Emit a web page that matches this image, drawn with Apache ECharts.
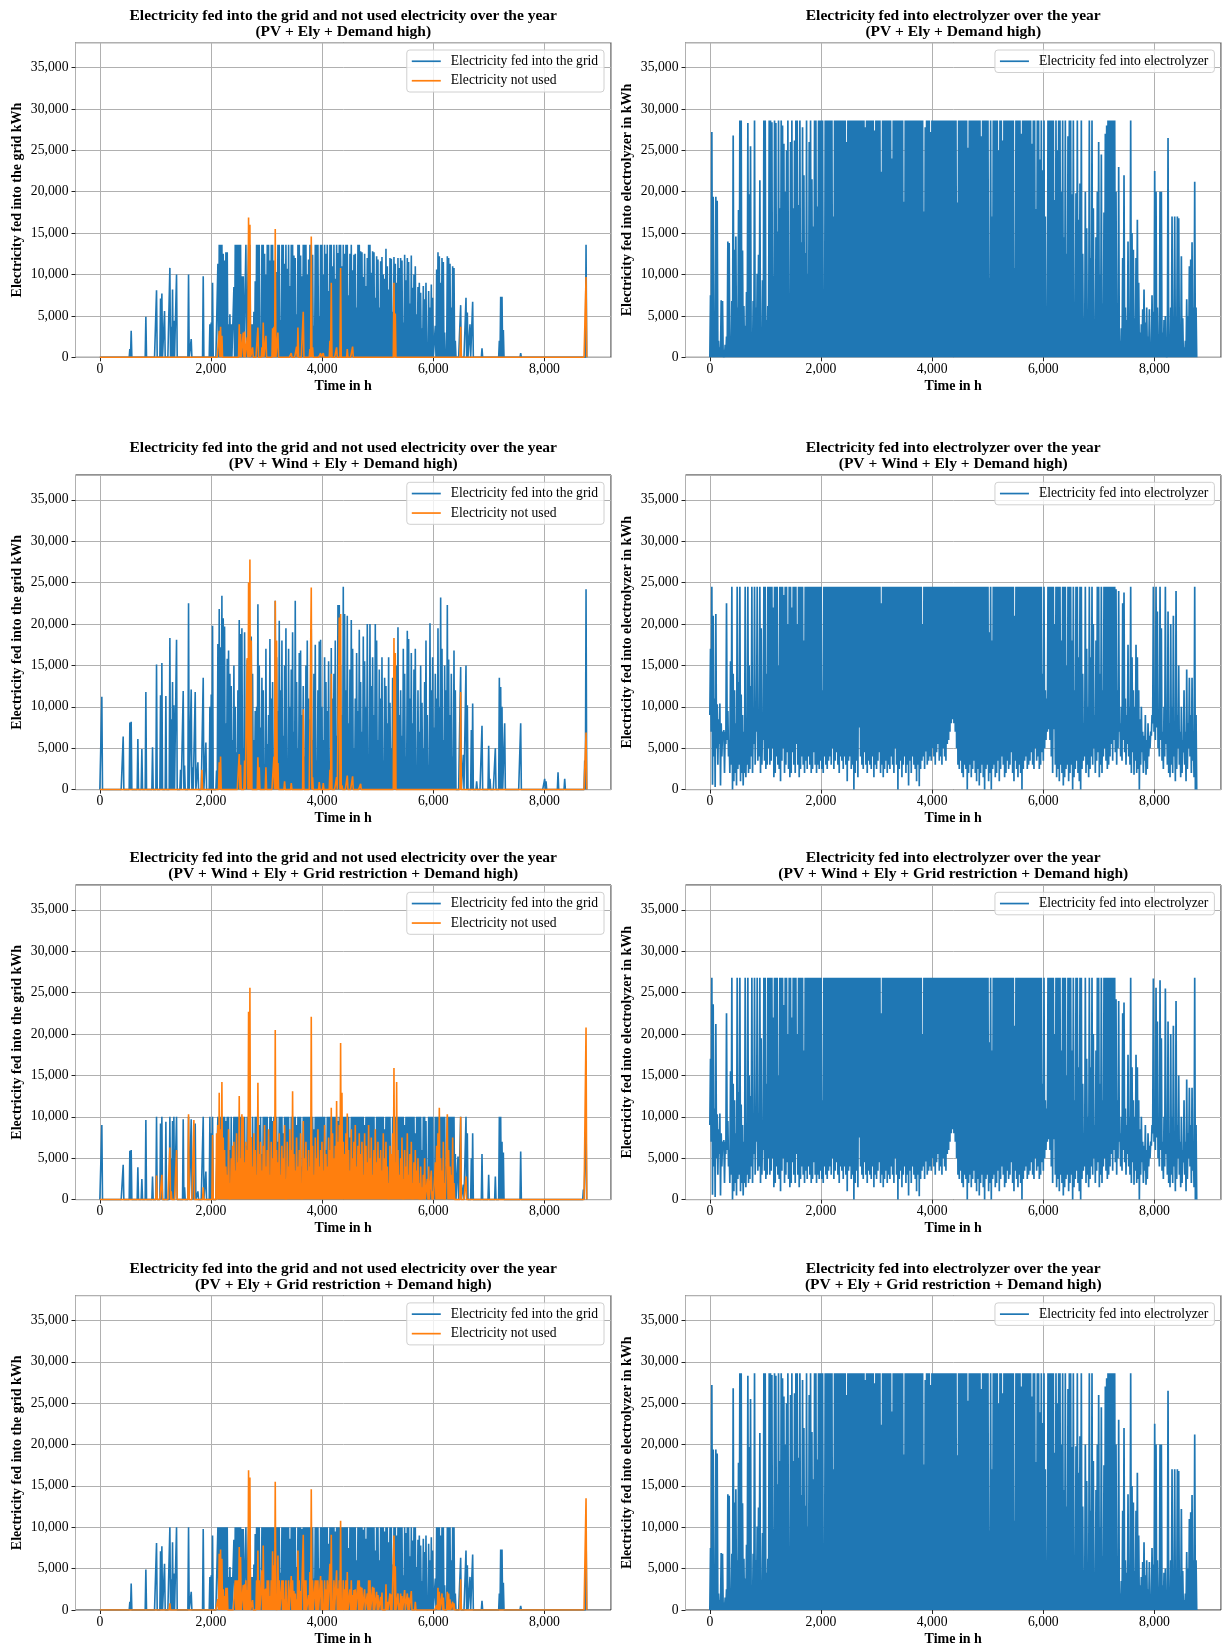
<!DOCTYPE html>
<html>
<head>
<meta charset="utf-8" />
<title>Electricity over the year</title>
<style>
  html, body { margin: 0; padding: 0; background: #fff; }
  #chart { width: 1223px; height: 1647px; }
</style>
</head>
<body>
<div id="chart"></div>
<script src="https://cdn.jsdelivr.net/npm/echarts@6/dist/echarts.min.js"></script>
<script>
// one value per day in 1000 kWh (spike drawn at hour day*24+12)

// PV + Ely + Demand high
var gridA = [
  0,0,0,0,0,0,0,0,0,0,0,0,0,0,0,
  0,0,0,0,0,0,0,1.0,3.2,0,0,0,0,0,0,
  0,0,0,0,4.9,0,0,0,0,0,0,0,8.1,0,0,
  7.1,7.7,0,5.6,0,0,0,10.8,3.7,8.2,4.4,0,10.0,0,0,
  0,0,0,0,0,0,10.0,0,2.2,0,0,0,0,0,0,
  0,0,9.8,0,0,0,0,4.0,4.2,9.0,0,0,0,11.3,13.6,
  13.6,13.6,12.5,11.7,12.7,12.7,4.0,5.2,4.0,0,8.5,13.6,13.6,13.6,13.6,
  13.6,9.8,9.8,0,13.6,0,13.6,13.6,4.0,4.0,5.5,9.2,13.6,13.6,13.6,
  1.7,13.6,13.6,12.5,10.0,13.6,13.6,11.7,13.6,13.6,11.7,8.2,10.3,13.6,13.6,
  4.5,13.6,13.6,11.3,13.6,10.7,13.6,8.6,13.6,13.6,12.3,12.0,5.2,13.6,13.6,
  12.3,9.8,13.6,13.6,13.6,10.0,11.8,13.6,13.6,12.4,3.8,13.6,13.6,13.6,5.0,
  13.6,13.6,10.0,13.6,12.5,13.6,8.0,13.6,13.6,11.0,13.6,9.5,13.6,12.6,13.6,
  13.6,11.0,13.6,12.5,13.6,13.6,7.5,12.5,13.6,10.5,12.4,12.5,6.0,13.6,13.6,
  12.8,12.7,9.7,12.5,8.6,12.0,13.6,13.6,10.2,12.8,12.7,7.2,12.2,11.8,6.0,
  11.6,12.1,10.0,9.5,13.1,11.0,8.2,12.0,11.9,5.5,12.1,11.3,9.0,12.0,10.8,
  12.0,11.7,4.2,12.4,9.3,12.0,11.5,6.5,12.3,8.4,10.0,11.0,5.2,8.5,9.0,
  7.8,3.5,8.6,7.0,9.0,0.4,8.0,6.0,8.8,7.2,0,3.8,10.6,12.7,12.2,
  9.0,12.0,11.5,3.0,0.4,12.2,12.0,11.3,6.0,11.0,10.8,2.0,0,0,0,
  6.3,0,0,0,7.2,5.4,0,4.0,0,6.7,0,0,0,0,0,
  0,1.1,0,0,0,0,0,0,0,0,0,0,0,0,2.0,
  7.3,7.3,3.3,0,0,0,0,0,0,0,0,0,0,0,0,
  0.5,0,0,0,0,0,0,0,0,0,0,0,0,0,0,
  0,0,0,0,0,0,0,0,0,0,0,0,0,0,0,
  0,0,0,0,0,0,0,0,0,0,0,0,0,0,0,
  0,0,0,0,13.6
];
var unusedA = [
  [89,3.2],[90,3.7],[91,2.6],[104,4.0],[105,2.8],[107,3.0],[108,3.1],[110,2.4],[111,16.9],[112,16.0],
  [114,1.2],[118,3.6],[121,1.2],[122,4.2],[124,2.6],[129,3.5],[130,3.7],[131,15.5],[133,3.0],[143,0.5],
  [147,1.3],[148,3.6],[152,5.5],[157,1.0],[158,14.6],[159,1.2],[165,0.5],[167,0.5],[172,2.0],[173,9.0],
  [177,1.2],[180,10.8],[185,1.0],[189,1.3],[220,9.0],[221,5.3],[270,3.7],[364,9.7]
];

// PV + Wind + Ely + Demand high
var gridB = [
  0,11.2,0,0,0,0,0,0,0,0,0,0,0,0,0,
  0,0,6.4,0,0,0,0,8.1,8.2,0,0,0,0,6.1,0,
  0,4.9,0,0,11.8,0,0,0,0,5.1,0,0,15.1,0,0,
  11.4,15.3,0,0,11.3,0,0,18.3,8.5,13.0,10.2,0,18.1,0,0,
  2.4,0,11.9,2.9,0,0,22.5,0,12.1,2.7,0,11.8,0,3.3,0,
  0,0,13.5,0,5.7,0,0,10.0,11.5,19.8,0,0,2.3,17.6,21.8,
  17.2,23.4,20.7,19.7,8.0,15.8,16.8,14.0,12.5,6.0,15.0,10.0,4.5,12.0,20.5,
  18.8,19.5,5.0,19.0,3.0,15.7,12.0,17.0,18.5,14.0,6.0,9.5,10.0,22.4,15.0,
  7.5,13.5,12.0,3.0,17.0,5.5,9.0,18.2,11.0,13.0,4.0,22.8,16.0,9.5,20.4,
  12.0,18.0,6.5,15.0,19.5,3.0,17.0,10.0,14.5,19.0,7.0,22.8,13.0,5.0,16.5,
  16.8,9.0,12.5,4.0,15.0,18.0,11.0,8.5,19.4,6.0,14.0,17.5,3.5,12.0,17.9,
  18.1,10.0,6.0,16.0,13.0,9.5,15.5,2.0,17.1,11.0,14.0,18.0,6.5,22.3,22.3,
  15.0,9.0,24.5,21.2,12.0,21.0,8.0,14.5,20.5,17.0,5.0,11.0,16.5,9.5,19.3,
  13.0,7.0,18.5,15.5,10.0,20.0,4.0,20.0,12.5,16.0,9.0,20.0,18.0,6.0,14.5,
  11.0,16.0,3.5,13.5,12.5,8.0,16.0,10.5,5.0,13.5,12.5,7.0,15.0,19.6,9.0,
  12.0,6.5,17.0,14.0,4.0,19.2,18.2,11.0,16.5,8.0,14.5,17.0,2.5,12.0,7.0,
  15.0,10.5,5.0,13.0,18.0,9.0,3.0,20.1,12.0,16.0,7.5,14.0,11.0,19.5,10.0,
  23.2,17.0,6.0,15.0,12.0,22.3,15.7,9.0,14.0,4.0,16.8,12.0,0,0,0,
  14.8,0,4.2,0,15.0,10.2,0,0,7.2,10.4,0,0,1.0,0,0,
  0,7.7,0,0,0,0,5.3,1.3,0,0,0,5.0,0,0,13.5,
  12.4,10.0,0,8.0,0,0,0,0,0,0,0,0,0,0,0,
  8.0,0,0,0,0,0,0,0,0,0,0,0,0,0,0,
  0,0,0,1.3,1.0,0,0,0,0,0,0,0,0,2.1,0,
  0,0,0,1.3,0,0,0,0,0,0,0,0,0,0,0,
  0,0,0,3.5,24.2
];
var unusedB = [
  [76,2.4],[89,3.3],[90,4.0],[104,4.3],[105,3.0],[108,3.5],[110,15.9],[111,25.0],[112,27.8],[113,18.0],
  [118,3.9],[119,2.7],[124,2.7],[130,4.0],[131,22.8],[132,18.0],[133,3.2],[138,1.0],[143,0.8],[152,9.7],
  [158,24.4],[159,1.5],[164,0.9],[167,0.8],[172,2.4],[173,14.0],[177,1.5],[179,20.8],[180,21.2],[181,0.5],
  [185,1.7],[189,1.6],[195,0.7],[220,18.3],[221,16.5],[270,11.8],[364,6.9]
];

// PV + Wind + Ely + Grid restriction + Demand high
var gridC = [
  0,9.0,0,0,0,0,0,0,0,0,0,0,0,0,0,
  0,0,4.2,0,0,0,0,5.9,6.0,0,0,0,0,3.9,0,
  0,2.5,0,0,9.6,0,0,0,0,2.8,0,0,10,0,0,
  9.2,10,0,0,9.4,0,0,10,5.0,9.5,10,0,10,0,0,
  0.1,0,9.7,1.5,0,0,10,0,9.7,1.0,0,9.2,0,1.0,0,
  0,0,10,0,3.4,0,0,10,8.0,10,0,0,0,10,10,
  10,10,10,10,9.5,10,10,6.0,10,4.0,10,10,10,10,10,
  10,10,9.0,10,6.5,10,10,10,7.5,10,3.5,10,10,10,9.0,
  10,5.5,10,10,10,10,4.0,10,10,9.5,10,10,10,7.0,10,
  10,10,8.0,10,10,10,10,5.0,10,10,10,10,9.0,10,10,
  10,4.0,10,10,10,10,10,10,10,10,8.5,10,10,10,10,
  10,10,10,10,6.0,10,10,10,10,10,10,10,10,9.5,10,
  10,10,10,10,10,10,10,7.5,10,10,10,10,10,10,10,
  10,10,10,9.0,10,10,10,10,10,10,10,5.0,10,10,10,
  10,10,10,8.5,10,10,10,10,4.5,10,10,10,10,10,10,
  10,10,10,9.0,10,10,10,10,10,10,10,8.0,10,10,10,
  10,6.0,10,10,9.5,0.5,10,10,10,10,3.0,10,10,10,10,
  10,10,10,10,4.0,10,10,10,10,10,10,5.5,0,5.2,0,
  10,0,1.8,0,10,8.0,0,0,5.0,8.0,0,0,0,0,0,
  0,5.5,0,0,0,0,3.0,0,0,0,0,2.8,0,0,10,
  10,7.0,5.7,0,0,0,0,0,0,0,0,0,0,0,0,
  5.8,0,0,0,0,0,0,0,0,0,0,0,0,0,0,
  0,0,0,0,0,0,0,0,0,0,0,0,0,0,0,
  0,0,0,0,0,0,0,0,0,0,0,0,0,0,0,
  0,0,1.2,0,9.4
];
var unusedC = [
  0,0,0,0,0,0,0,0,0,0,0,0,0,0,0,
  0,0,0,0,0,0,0,0,0,0,0,0,0,0,0,
  0,0,0,0,0,0,0,0,0,0,0,0,2.9,0,0,
  0,3.0,0,0,0,0,0,6.3,1.0,0,0,0,6.0,0,0,
  0,0,0,0,0,0,10.3,0,0,0,9.6,0,0,0,0,
  0,0,1.5,0,0,0,0,0,0,7.8,0,0,8.0,9.0,12.9,
  8.5,14.2,7.5,6.0,4.0,3.0,8.5,2.0,5.0,6.5,7.0,3.5,8.0,4.5,12.5,
  5.0,10.3,10.0,4.5,7.0,6.0,22.7,25.6,7.5,4.0,8.0,6.0,3.0,14.1,5.5,
  7.0,3.5,6.5,9.0,4.0,6.0,8.5,3.0,7.0,5.0,9.5,20.5,6.0,4.5,8.0,
  3.0,6.5,5.0,9.0,2.5,7.0,4.0,8.5,6.0,13.1,5.5,3.5,7.5,4.0,6.0,
  8.0,2.0,9.5,5.0,7.0,3.5,6.0,4.0,22.1,6.5,3.0,7.5,5.0,8.5,4.0,
  6.0,7.0,3.5,9.0,5.5,4.0,7.5,6.0,11.1,8.0,5.0,6.5,11.9,7.0,9.0,
  18.9,12.9,7.0,5.5,8.0,10.4,6.0,3.5,8.5,5.0,7.0,9.0,4.0,6.5,8.0,
  5.5,7.0,3.0,8.0,6.5,4.5,9.0,5.0,7.5,3.0,6.0,8.5,4.5,7.0,5.0,
  6.0,3.5,8.0,5.0,7.0,4.0,2.0,6.5,5.5,8.0,15.9,4.5,14.2,6.0,3.0,
  5.0,7.5,2.5,6.0,4.0,8.0,3.0,5.5,7.0,2.0,4.5,6.0,3.5,5.0,2.0,
  4.0,1.5,3.0,5.0,0,2.5,4.0,0,3.5,1.0,0,4.5,6.5,8.0,11.1,
  5.0,3.5,7.0,2.0,0,10.3,6.0,4.0,3.0,7.5,2.0,0,0,0,0,
  10.0,0,0,0,2.8,0,0,0,0,0,0,0,0,0,0,
  0,0,0,0,0,0,0,0,0,0,0,0,0,0,0,
  0,0,0,0,0,0,0,0,0,0,0,0,0,0,0,
  0,0,0,0,0,0,0,0,0,0,0,0,0,0,0,
  0,0,0,0,0,0,0,0,0,0,0,0,0,0,0,
  0,0,0,0,0,0,0,0,0,0,0,0,0,0,0,
  0,0,0,0,20.8
];

// PV + Ely + Grid restriction + Demand high
var gridD = [
  0,0,0,0,0,0,0,0,0,0,0,0,0,0,0,
  0,0,0,0,0,0,0,1.0,3.2,0,0,0,0,0,0,
  0,0,0,0,4.9,0,0,0,0,0,0,0,8.1,0,0,
  7.1,7.7,0,5.6,0,0,0,10,3.7,8.2,4.4,0,10,0,0,
  0,0,0,0,0,0,10,0,2.2,0,0,0,0,0,0,
  0,0,9.8,0,0,0,0,4.0,4.2,9.0,0,0,0,10,10,
  10,10,10,10,10,10,4.0,5.2,4.0,0,8.5,10,10,10,10,
  10,9.8,9.8,0,10,0,10,10,4.0,4.0,5.5,9.2,10,10,10,
  1.7,10,10,10,10,10,10,10,10,10,10,8.2,10,10,10,
  4.5,10,10,10,10,10,10,8.6,10,10,10,10,5.2,10,10,
  10,9.8,10,10,10,10,10,10,10,10,3.8,10,10,10,5.0,
  10,10,10,10,10,10,8.0,10,10,10,10,9.5,10,10,10,
  10,10,10,10,10,10,7.5,10,10,10,10,10,6.0,10,10,
  10,10,9.7,10,8.6,10,10,10,10,10,10,7.2,10,10,6.0,
  10,10,10,9.5,10,10,8.2,10,10,5.5,10,10,9.0,10,10,
  10,10,4.2,10,9.3,10,10,6.5,10,8.4,10,10,5.2,8.5,9.0,
  7.8,3.5,8.6,7.0,9.0,0.4,8.0,6.0,8.8,7.2,0,3.8,10,10,10,
  9.0,10,10,3.0,0.4,10,10,10,6.0,10,10,2.0,0,0,0,
  6.3,0,0,0,7.2,5.4,0,4.0,0,6.7,0,0,0,0,0,
  0,1.1,0,0,0,0,0,0,0,0,0,0,0,0,2.0,
  7.3,7.3,3.3,0,0,0,0,0,0,0,0,0,0,0,0,
  0.5,0,0,0,0,0,0,0,0,0,0,0,0,0,0,
  0,0,0,0,0,0,0,0,0,0,0,0,0,0,0,
  0,0,0,0,0,0,0,0,0,0,0,0,0,0,0,
  0,0,0,0,10
];
var unusedD = [
  0,0,0,0,0,0,0,0,0,0,0,0,0,0,0,
  0,0,0,0,0,0,0,0,0,0,0,0,0,0,0,
  0,0,0,0,0,0,0,0,0,0,0,0,0,0,0,
  0,0,0,0,0,0,0,0.8,0,0,0,0,0,0,0,
  0,0,0,0,0,0,0,0,0,0,0,0,0,0,0,
  0,0,0,0,0,0,0,0,0,0,0,0,0,1.3,6.8,
  7.3,6.2,2.5,1.7,2.7,2.7,0,0,0,0,0,3.6,3.6,3.6,7.6,
  6.4,0,3.0,3.1,3.6,2.4,16.9,16.0,0,1.2,0,0,3.6,7.2,3.6,
  0,4.8,7.8,2.5,2.6,3.6,3.6,1.7,3.6,7.1,5.4,15.5,0.3,6.6,3.6,
  0,3.6,3.6,1.3,3.6,0.7,3.6,0,4.1,3.6,2.3,2.0,1.3,7.2,3.6,
  2.3,0,9.1,3.6,3.6,0,1.8,4.6,14.6,3.6,0,3.6,3.6,3.6,0,
  4.1,3.6,0.5,3.6,2.5,3.6,0,5.6,9.1,1.0,3.6,0,4.8,2.6,3.6,
  10.8,1.0,3.6,2.5,3.6,4.6,0,2.5,3.6,1.8,2.4,2.5,0,3.6,3.6,
  2.8,2.7,0,2.5,0,2.0,3.6,3.6,0.2,2.8,2.7,0,2.2,1.8,0,
  1.6,2.1,0,0,3.1,1.0,0,2.0,1.9,0,9.0,5.3,0,2.0,0.8,
  2.0,1.7,0,2.4,0,2.0,1.5,0,2.3,0,0,1.0,0,0,0,
  0,0,0,0,0,0,0,0,0,0,0,0,0.6,2.7,2.2,
  0,2.0,1.5,0,0,2.2,2.0,1.3,0,1.0,0.8,0,0,0,0,
  3.7,0,0,0,0,0,0,0,0,0,0,0,0,0,0,
  0,0,0,0,0,0,0,0,0,0,0,0,0,0,0,
  0,0,0,0,0,0,0,0,0,0,0,0,0,0,0,
  0,0,0,0,0,0,0,0,0,0,0,0,0,0,0,
  0,0,0,0,0,0,0,0,0,0,0,0,0,0,0,
  0,0,0,0,0,0,0,0,0,0,0,0,0,0,0,
  0,0,0,0,13.5
];

// electrolyzer, PV only (night = 0)
var elyA = [
  7.5,27.2,19.4,5.5,19.4,18.9,2.0,1.2,6.9,6.8,0.9,1.5,2.5,14.0,13.8,
  1.0,6.8,26.8,13.0,14.6,6.0,17.8,28.6,28.6,12.9,6.2,3.8,7.9,28.3,19.7,
  25.5,2.4,6.8,28.6,6.0,10.1,12.4,21.4,2.5,9.3,28.6,28.6,4.5,6.2,28.6,
  28.6,28.4,9.8,28.6,28.3,15.2,28.6,18.0,28.6,28.0,25.8,20.0,25.0,28.6,6.8,
  26.0,28.6,18.0,26.2,28.6,28.6,18.4,28.6,13.9,27.8,22.0,12.6,28.6,10.1,26.0,
  28.6,21.5,15.8,28.6,28.6,18.2,28.6,28.6,28.6,28.6,4.8,28.6,28.6,28.6,28.6,
  28.6,28.6,17.0,28.6,28.6,28.6,28.6,28.6,28.6,28.6,28.6,28.6,26.0,28.6,28.6,
  28.6,28.6,28.6,28.6,28.6,28.6,28.6,28.6,28.6,28.6,28.6,27.8,28.6,28.6,28.6,
  28.6,28.6,28.6,27.4,28.6,28.6,28.6,28.6,22.4,28.6,28.6,28.6,28.6,28.6,28.6,
  28.6,24.0,28.6,28.6,28.6,28.6,28.6,28.6,28.6,28.6,18.8,28.6,28.6,28.6,28.6,
  28.6,28.6,28.6,28.6,28.6,28.6,28.6,28.6,28.6,28.6,17.6,27.8,28.6,28.6,28.6,
  27.2,28.6,28.6,28.6,28.6,28.6,28.6,28.6,28.6,28.6,28.6,28.6,28.6,28.6,28.6,
  28.6,28.6,28.6,28.6,28.6,18.7,28.6,28.6,28.6,28.6,28.6,28.6,28.6,25.3,28.6,
  28.6,28.6,28.6,28.6,28.6,28.6,28.6,28.6,26.7,28.6,28.6,28.6,28.6,28.6,9.6,
  28.6,17.0,28.6,28.6,28.6,28.6,25.0,28.6,28.6,26.2,28.6,28.6,28.6,28.6,28.6,
  28.6,28.6,28.6,10.8,28.6,28.6,28.6,28.6,27.0,28.6,28.6,28.6,28.6,28.6,28.6,
  28.6,25.8,28.6,28.6,17.9,28.6,28.6,23.9,28.6,22.6,28.6,17.0,5.3,28.6,28.6,
  28.6,28.6,28.6,19.0,28.6,25.0,28.6,28.6,20.0,28.6,14.5,28.6,12.5,26.7,28.6,
  28.6,19.7,28.6,4.7,19.8,28.6,16.6,21.0,28.6,12.5,4.8,20.0,15.6,5.3,28.6,
  12.0,28.6,18.0,4.0,14.5,20.0,26.0,10.0,24.5,6.5,17.5,27.0,28.0,28.6,28.6,
  28.6,28.6,28.6,28.6,20.0,6.5,23.0,2.0,3.5,12.0,22.0,6.0,4.5,14.0,5.0,
  28.6,15.0,13.0,4.7,12.0,16.6,9.0,3.0,4.0,5.8,8.2,4.2,6.0,2.5,5.8,
  1.8,7.5,5.5,22.5,20.0,6.0,2.8,20.0,20.0,3.0,4.5,5.0,0.8,26.5,2.5,
  6.0,17.0,3.0,17.0,3.5,17.0,16.8,4.0,12.2,4.7,1.2,2.0,7.0,5.0,11.0,
  11.8,13.9,6.0,21.2,6.0
];
var elyD = [
  7.5,27.2,19.4,5.5,19.4,18.9,2.0,1.2,6.9,6.8,0.9,1.5,2.5,14.0,13.8,
  1.0,6.8,26.8,13.0,14.6,6.0,17.8,28.6,28.6,12.9,6.2,3.8,7.9,28.3,19.7,
  25.5,2.4,6.8,28.6,6.0,10.1,12.4,21.4,2.5,9.3,28.6,28.6,4.5,6.2,28.6,
  28.6,28.4,9.8,28.6,28.3,15.2,28.6,18.0,28.6,28.0,25.8,20.0,25.0,28.6,6.8,
  26.0,28.6,18.0,26.2,28.6,28.6,18.4,28.6,13.9,27.8,22.0,12.6,28.6,10.1,26.0,
  28.6,21.5,15.8,28.6,28.6,18.2,28.6,28.6,28.6,28.6,4.8,28.6,28.6,28.6,28.6,
  28.6,28.6,17.0,28.6,28.6,28.6,28.6,28.6,28.6,28.6,28.6,28.6,26.0,28.6,28.6,
  28.6,28.6,28.6,28.6,28.6,28.6,28.6,28.6,28.6,28.6,28.6,27.8,28.6,28.6,28.6,
  28.6,28.6,28.6,27.4,28.6,28.6,28.6,28.6,22.4,28.6,28.6,28.6,28.6,28.6,28.6,
  28.6,24.0,28.6,28.6,28.6,28.6,28.6,28.6,28.6,28.6,18.8,28.6,28.6,28.6,28.6,
  28.6,28.6,28.6,28.6,28.6,28.6,28.6,28.6,28.6,28.6,17.6,27.8,28.6,28.6,28.6,
  27.2,28.6,28.6,28.6,28.6,28.6,28.6,28.6,28.6,28.6,28.6,28.6,28.6,28.6,28.6,
  28.6,28.6,28.6,28.6,28.6,18.7,28.6,28.6,28.6,28.6,28.6,28.6,28.6,25.3,28.6,
  28.6,28.6,28.6,28.6,28.6,28.6,28.6,28.6,26.7,28.6,28.6,28.6,28.6,28.6,9.6,
  28.6,17.0,28.6,28.6,28.6,28.6,25.0,28.6,28.6,26.2,28.6,28.6,28.6,28.6,28.6,
  28.6,28.6,28.6,10.8,28.6,28.6,28.6,28.6,27.0,28.6,28.6,28.6,28.6,28.6,28.6,
  28.6,25.8,28.6,28.6,17.9,28.6,28.6,23.9,28.6,22.6,28.6,17.0,5.3,28.6,28.6,
  28.6,28.6,28.6,19.0,28.6,25.0,28.6,28.6,20.0,28.6,14.5,28.6,12.5,26.7,28.6,
  28.6,19.7,28.6,4.7,19.8,28.6,16.6,21.0,28.6,12.5,4.8,20.0,15.6,5.3,28.6,
  12.0,28.6,18.0,4.0,14.5,20.0,26.0,10.0,24.5,6.5,17.5,27.0,28.0,28.6,28.6,
  28.6,28.6,28.6,28.6,20.0,6.5,23.0,2.0,3.5,12.0,22.0,6.0,4.5,14.0,5.0,
  28.6,15.0,13.0,4.7,12.0,16.6,9.0,3.0,4.0,5.8,8.2,4.2,6.0,2.5,5.8,
  1.8,7.5,5.5,22.5,20.0,6.0,2.8,20.0,20.0,3.0,4.5,5.0,0.8,26.5,2.5,
  6.0,17.0,3.0,17.0,3.5,17.0,16.8,4.0,12.2,4.7,1.2,2.0,7.0,5.0,11.0,
  11.8,13.9,6.0,21.2,6.0
];

// electrolyzer, PV + wind: daytime peak and night low per day
var elyBPeak = [
  17.0,24.5,21.0,11.0,21.2,10.3,8.5,10.4,8.0,7.0,7.2,7.0,22.5,9.5,6.0,
  15.5,24.5,14.0,12.0,8.0,24.5,13.0,24.5,11.5,9.0,7.0,24.5,6.5,24.5,15.0,
  12.5,24.5,8.0,24.5,10.5,24.5,9.0,24.5,19.5,7.5,24.5,24.5,14.0,24.5,24.5,
  24.5,24.5,22.0,24.5,24.5,24.5,15.0,24.5,24.5,24.5,23.5,24.5,24.5,20.0,24.5,
  24.5,22.0,24.5,24.5,24.5,20.0,24.5,24.5,24.5,24.5,18.0,24.5,24.5,24.5,24.5,
  24.5,24.5,24.5,24.5,24.5,24.5,24.5,24.5,24.5,12.0,24.5,24.5,24.5,24.5,24.5,
  24.5,24.5,24.5,24.5,24.5,24.5,24.5,24.5,24.5,24.5,24.5,24.5,24.5,24.5,24.5,
  24.5,24.5,24.5,24.5,24.5,24.5,24.5,24.5,24.5,24.5,24.5,24.5,24.5,24.5,24.5,
  24.5,24.5,24.5,24.5,24.5,24.5,24.5,24.5,22.5,24.5,24.5,24.5,24.5,24.5,24.5,
  24.5,24.5,24.5,24.5,24.5,24.5,24.5,24.5,24.5,24.5,24.5,24.5,24.5,24.5,24.5,
  24.5,24.5,24.5,24.5,24.5,24.5,24.5,24.5,24.5,20.0,24.5,24.5,24.5,24.5,24.5,
  24.5,24.5,24.5,24.5,24.5,24.5,24.5,24.5,24.5,24.5,24.5,24.5,24.5,24.5,24.5,
  24.5,24.5,24.5,24.5,24.5,24.5,24.5,24.5,24.5,24.5,24.5,24.5,24.5,24.5,24.5,
  24.5,24.5,24.5,24.5,24.5,24.5,24.5,24.5,24.5,24.5,24.5,24.5,24.5,24.5,19.0,
  24.5,18.0,24.5,24.5,24.5,24.5,24.5,24.5,24.5,24.5,24.5,24.5,24.5,24.5,24.5,
  24.5,24.5,24.5,21.0,24.5,24.5,24.5,24.5,24.5,24.5,24.5,24.5,24.5,24.5,24.5,
  24.5,24.5,24.5,24.5,24.5,24.5,24.5,24.5,24.5,14.0,24.5,12.0,11.0,24.5,24.5,
  24.5,24.5,24.5,20.0,24.5,24.5,24.5,24.5,18.0,24.5,24.5,24.5,15.0,24.5,24.5,
  24.5,18.0,24.5,12.0,24.5,24.5,16.0,24.5,24.5,14.0,8.0,24.5,17.0,10.0,24.5,
  16.0,24.5,20.0,9.0,18.0,24.5,24.5,14.0,24.5,12.0,24.5,24.5,24.5,24.5,24.5,
  24.5,24.5,24.5,24.5,24.2,12.0,24.0,8.0,10.0,22.5,23.8,11.0,9.0,17.5,10.0,
  24.5,16.0,12.0,10.0,17.5,16.0,12.0,8.5,10.0,7.0,6.5,9.0,6.0,8.0,6.5,
  7.0,9.0,24.5,10.0,24.5,21.5,8.0,24.5,19.5,7.0,10.0,24.5,9.0,21.5,8.0,
  20.0,10.0,21.0,8.0,24.0,9.0,15.0,7.0,10.0,6.0,12.0,7.0,14.5,8.0,13.5,
  9.0,13.5,7.0,24.5,9.0
];
var elyBLow = [
  9.0,7.0,0.6,4.0,0.3,5.0,3.0,5.5,0.5,4.0,6.0,2.0,5.5,6.0,4.0,
  2.0,3.0,0.0,1.0,2.0,0.5,2.5,3.0,1.0,2.0,0.5,2.0,1.5,3.0,2.0,
  2.5,4.0,2.0,5.5,3.0,7.0,3.5,4.0,2.0,3.0,6.0,3.5,2.5,3.0,5.0,
  3.0,3.5,5.0,1.5,2.0,4.0,3.0,2.5,1.0,3.5,5.0,2.0,3.0,4.5,2.5,
  1.5,2.0,4.5,3.0,2.0,5.5,3.0,1.5,2.5,4.0,3.0,2.0,3.5,2.5,4.0,
  3.0,2.0,2.5,4.5,3.0,2.0,3.0,2.5,3.5,2.5,2.0,4.0,3.0,2.5,3.5,
  4.0,3.0,5.0,2.5,3.5,4.5,3.0,2.0,4.0,3.5,2.5,4.0,3.0,1.0,3.5,
  4.0,2.5,3.0,0.0,2.0,3.5,1.5,7.5,4.0,3.0,2.5,4.5,3.0,2.0,3.5,
  3.0,2.5,4.0,1.5,3.0,2.5,3.5,4.5,2.0,3.0,1.5,2.5,3.5,2.0,3.0,
  2.5,4.0,3.0,2.0,5.0,3.0,0.0,2.5,3.5,1.5,3.0,4.0,2.0,3.0,0.5,
  3.5,2.0,4.0,3.0,2.5,1.0,3.0,0.4,2.5,3.5,4.0,2.5,4.6,3.0,3.5,
  4.0,3.5,5.0,4.0,3.0,4.5,5.5,3.5,4.0,3.0,5.0,4.0,3.5,5.5,6.0,
  7.0,8.0,8.5,8.0,7.0,5.0,3.0,2.5,3.5,2.0,1.5,3.0,2.5,0.0,2.0,
  3.0,1.5,2.5,3.5,2.0,1.0,2.5,0.5,2.0,3.0,1.5,0.0,2.5,3.0,1.0,
  2.0,0.0,2.5,3.0,1.5,2.0,3.5,1.0,2.5,4.0,3.0,1.5,2.0,3.5,2.5,
  3.0,4.5,2.0,1.0,3.5,2.5,1.5,3.0,2.0,0.0,2.5,3.5,4.0,2.5,3.0,
  3.5,4.5,3.0,2.5,5.0,3.5,4.0,2.5,3.0,4.5,3.5,5.0,6.0,7.0,7.3,
  6.0,4.0,2.0,7.3,3.0,1.5,2.5,1.0,3.0,2.0,0.5,1.5,2.5,3.0,1.0,
  2.0,3.0,0.0,1.5,2.5,3.5,2.0,1.0,0.0,2.5,3.5,4.0,2.0,3.0,1.5,
  2.5,4.0,3.0,5.0,2.0,3.5,4.5,1.5,3.0,2.0,4.0,5.0,3.5,2.5,3.0,
  4.0,5.5,3.5,6.0,4.5,3.0,5.0,7.0,4.0,3.5,6.0,4.5,3.0,5.5,4.0,
  3.0,2.0,4.5,1.8,3.5,2.0,2.5,0.0,3.0,4.5,2.0,3.5,1.8,2.5,4.0,
  5.0,6.5,8.0,7.0,6.0,7.5,5.0,4.0,6.0,3.5,2.5,4.0,5.5,3.0,2.0,
  1.5,3.0,2.0,4.0,1.0,2.5,5.0,3.0,1.5,2.0,4.5,3.0,1.0,2.5,5.0,
  4.0,2.0,3.5,1.5,0.0
];
var elyCPeak = [
  17.0,26.8,23.6,11.0,21.2,10.3,8.5,10.4,8.0,7.0,7.2,7.0,22.5,9.5,6.0,
  15.5,26.8,14.0,12.0,8.0,26.8,13.0,26.8,11.5,9.0,7.0,26.8,6.5,26.8,15.0,
  12.5,26.8,8.0,26.8,10.5,26.8,9.0,26.8,19.5,7.5,26.8,26.8,14.0,26.8,26.8,
  26.8,26.8,22.0,26.8,26.8,26.8,15.0,26.8,26.8,26.8,23.5,26.8,26.8,20.0,26.8,
  26.8,22.0,26.8,26.8,26.8,20.0,26.8,26.8,26.8,26.8,18.0,26.8,26.8,26.8,26.8,
  26.8,26.8,26.8,26.8,26.8,26.8,26.8,26.8,26.8,12.0,26.8,26.8,26.8,26.8,26.8,
  26.8,26.8,26.8,26.8,26.8,26.8,26.8,26.8,26.8,26.8,26.8,26.8,26.8,26.8,26.8,
  26.8,26.8,26.8,26.8,26.8,26.8,26.8,26.8,26.8,26.8,26.8,26.8,26.8,26.8,26.8,
  26.8,26.8,26.8,26.8,26.8,26.8,26.8,26.8,22.5,26.8,26.8,26.8,26.8,26.8,26.8,
  26.8,26.8,26.8,26.8,26.8,26.8,26.8,26.8,26.8,26.8,26.8,26.8,26.8,26.8,26.8,
  26.8,26.8,26.8,26.8,26.8,26.8,26.8,26.8,26.8,20.0,26.8,26.8,26.8,26.8,26.8,
  26.8,26.8,26.8,26.8,26.8,26.8,26.8,26.8,26.8,26.8,26.8,26.8,26.8,26.8,26.8,
  26.8,26.8,26.8,26.8,26.8,26.8,26.8,26.8,26.8,26.8,26.8,26.8,26.8,26.8,26.8,
  26.8,26.8,26.8,26.8,26.8,26.8,26.8,26.8,26.8,26.8,26.8,26.8,26.8,26.8,19.0,
  26.8,18.0,26.8,26.8,26.8,26.8,26.8,26.8,26.8,26.8,26.8,26.8,26.8,26.8,26.8,
  26.8,26.8,26.8,21.0,26.8,26.8,26.8,26.8,26.8,26.8,26.8,26.8,26.8,26.8,26.8,
  26.8,26.8,26.8,26.8,26.8,26.8,26.8,26.8,26.8,14.0,26.8,12.0,11.0,26.8,26.8,
  26.8,26.8,26.8,20.0,26.8,26.8,26.8,26.8,18.0,26.8,26.8,26.8,15.0,26.8,26.8,
  26.8,18.0,26.8,12.0,26.8,26.8,16.0,26.8,26.8,14.0,8.0,26.8,17.0,10.0,26.8,
  16.0,26.8,20.0,9.0,18.0,26.8,26.8,14.0,26.8,12.0,26.8,26.8,26.8,26.8,26.8,
  26.8,26.8,26.8,26.8,24.2,12.0,24.0,8.0,10.0,22.5,23.8,11.0,9.0,17.5,10.0,
  26.8,16.0,12.0,10.0,17.5,16.0,12.0,8.5,10.0,7.0,6.5,9.0,6.0,8.0,6.5,
  7.0,9.0,26.7,10.0,25.6,21.5,8.0,26.5,19.5,7.0,10.0,25.5,9.0,21.5,8.0,
  20.0,10.0,21.0,8.0,24.0,9.0,15.0,7.0,10.0,6.0,12.0,7.0,14.5,8.0,13.5,
  9.0,13.5,7.0,26.8,9.0
];
var elyCLow = [
  9.0,7.0,0.6,4.0,0.3,5.0,3.0,5.5,0.5,4.0,6.0,2.0,5.5,6.0,4.0,
  2.0,3.0,0.0,1.0,2.0,0.5,2.5,3.0,1.0,2.0,0.5,2.0,1.5,3.0,2.0,
  2.5,4.0,2.0,5.5,3.0,7.0,3.5,4.0,2.0,3.0,6.0,3.5,2.5,3.0,5.0,
  3.0,3.5,5.0,1.5,2.0,4.0,3.0,2.5,1.0,3.5,5.0,2.0,3.0,4.5,2.5,
  1.5,2.0,4.5,3.0,2.0,5.5,3.0,1.5,2.5,4.0,3.0,2.0,3.5,2.5,4.0,
  3.0,2.0,2.5,4.5,3.0,2.0,3.0,2.5,3.5,2.5,2.0,4.0,3.0,2.5,3.5,
  4.0,3.0,5.0,2.5,3.5,4.5,3.0,2.0,4.0,3.5,2.5,4.0,3.0,1.0,3.5,
  4.0,2.5,3.0,0.0,2.0,3.5,1.5,7.5,4.0,3.0,2.5,4.5,3.0,2.0,3.5,
  3.0,2.5,4.0,1.5,3.0,2.5,3.5,4.5,2.0,3.0,1.5,2.5,3.5,2.0,3.0,
  2.5,4.0,3.0,2.0,5.0,3.0,0.0,2.5,3.5,1.5,3.0,4.0,2.0,3.0,0.5,
  3.5,2.0,4.0,3.0,2.5,1.0,3.0,0.4,2.5,3.5,4.0,2.5,4.6,3.0,3.5,
  4.0,3.5,5.0,4.0,3.0,4.5,5.5,3.5,4.0,3.0,5.0,4.0,3.5,5.5,6.0,
  7.0,8.0,8.5,8.0,7.0,5.0,3.0,2.5,3.5,2.0,1.5,3.0,2.5,0.0,2.0,
  3.0,1.5,2.5,3.5,2.0,1.0,2.5,0.5,2.0,3.0,1.5,0.0,2.5,3.0,1.0,
  2.0,0.0,2.5,3.0,1.5,2.0,3.5,1.0,2.5,4.0,3.0,1.5,2.0,3.5,2.5,
  3.0,4.5,2.0,1.0,3.5,2.5,1.5,3.0,2.0,0.0,2.5,3.5,4.0,2.5,3.0,
  3.5,4.5,3.0,2.5,5.0,3.5,4.0,2.5,3.0,4.5,3.5,5.0,6.0,7.0,7.3,
  6.0,4.0,2.0,7.3,3.0,1.5,2.5,1.0,3.0,2.0,0.5,1.5,2.5,3.0,1.0,
  2.0,3.0,0.0,1.5,2.5,3.5,2.0,1.0,0.0,2.5,3.5,4.0,2.0,3.0,1.5,
  2.5,4.0,3.0,5.0,2.0,3.5,4.5,1.5,3.0,2.0,4.0,5.0,3.5,2.5,3.0,
  4.0,5.5,3.5,6.0,4.5,3.0,5.0,7.0,4.0,3.5,6.0,4.5,3.0,5.5,4.0,
  3.0,2.0,4.5,1.8,3.5,2.0,2.5,0.0,3.0,4.5,2.0,3.5,1.8,2.5,4.0,
  5.0,6.5,8.0,7.0,6.0,7.5,5.0,4.0,6.0,3.5,2.5,4.0,5.5,3.0,2.0,
  1.5,3.0,2.0,4.0,1.0,2.5,5.0,3.0,1.5,2.0,4.5,3.0,1.0,2.5,5.0,
  4.0,2.0,3.5,1.5,0.0
];

var subtitles = [
  "(PV + Ely + Demand high)",
  "(PV + Wind + Ely + Demand high)",
  "(PV + Wind + Ely + Grid restriction + Demand high)",
  "(PV + Ely + Grid restriction + Demand high)"
];
var NAME_GRID = "Electricity fed into the grid";
var NAME_UNUSED = "Electricity not used";
var NAME_ELY = "Electricity fed into electrolyzer";

// sparse [day, value] list -> daily list
function fromPairs(pairs) {
  var a = [];
  for (var i = 0; i < 365; i++) a.push(0);
  pairs.forEach(function (p) { a[p[0]] = p[1]; });
  return a;
}
// day values -> hourly points (low at midnight, value at noon)
function dayPoints(vals, lows) {
  var pts = [];
  for (var d = 0; d < vals.length; d++) {
    pts.push([d * 24, lows ? lows[d] * 1000 : 0]);
    pts.push([d * 24 + 12, vals[d] * 1000]);
  }
  pts.push([8760, 0]);
  return pts;
}

var leftPanels = [
  [gridA, fromPairs(unusedA)],
  [gridB, fromPairs(unusedB)],
  [gridC, unusedC],
  [gridD, unusedD]
];
var rightPanels = [
  dayPoints(elyA),
  dayPoints(elyBPeak, elyBLow),
  dayPoints(elyCPeak, elyCLow),
  dayPoints(elyD)
];

var BLUE = "#1f77b4", ORANGE = "#ff7f0e";
var FONT = "Liberation Serif";
var rowTops = [42.7, 475, 885, 1295.6];
var rowH = 314.6, panelW = 535.5;
var colX = [75.5, 685.5];

var grids = [], xAxes = [], yAxes = [], titles = [], legends = [], series = [];

rowTops.forEach(function (top, r) {
  for (var c = 0; c < 2; c++) {
    var i = r * 2 + c;
    var left = colX[c];
    grids.push({
      left: left, top: top, width: panelW, height: rowH,
      show: true, borderColor: "#222", borderWidth: 1, backgroundColor: "transparent"
    });
    xAxes.push({
      type: "value", gridIndex: i, min: -438, max: 9197,
      splitNumber: 5, minInterval: 2000, maxInterval: 2000,
      name: "Time in h", nameLocation: "middle", nameGap: 22,
      nameTextStyle: { fontFamily: FONT, fontWeight: "bold", fontSize: 14, color: "#000" },
      axisLine: { show: false, onZero: false },
      axisTick: { show: true, length: 4, lineStyle: { color: "#222", width: 1 } },
      axisLabel: { fontFamily: FONT, fontSize: 13.7, color: "#000", margin: 5, showMinLabel: false, showMaxLabel: false },
      splitLine: { show: true, lineStyle: { color: "#b0b0b0", width: 1 } }
    });
    yAxes.push({
      type: "value", gridIndex: i, min: 0, max: 38000, interval: 5000,
      name: c === 0 ? "Electricity fed into the grid kWh" : "Electricity fed into electrolyzer in kWh",
      nameLocation: "middle", nameGap: 51,
      nameTextStyle: { fontFamily: FONT, fontWeight: "bold", fontSize: 14, color: "#000" },
      axisLine: { show: false, onZero: false },
      axisTick: { show: true, length: 4, lineStyle: { color: "#222", width: 1 } },
      axisLabel: { fontFamily: FONT, fontSize: 13.7, color: "#000", margin: 7, showMaxLabel: false },
      splitLine: { show: true, lineStyle: { color: "#b0b0b0", width: 1 } }
    });
    titles.push({
      text: (c === 0 ? "Electricity fed into the grid and not used electricity over the year"
                     : "Electricity fed into electrolyzer over the year") + "\n" + subtitles[r],
      left: left + panelW / 2, top: top - 35.2, padding: 0,
      textAlign: "center", textVerticalAlign: "top",
      textStyle: { fontFamily: FONT, fontWeight: "bold", fontSize: 15.5, lineHeight: 16.4, color: "#000" }
    });
    legends.push({
      data: c === 0 ? [NAME_GRID, NAME_UNUSED] : [NAME_ELY],
      orient: "vertical",
      right: c === 0 ? 619 : 8.6,
      top: top + 7.3,
      icon: "rect", itemWidth: 29, itemHeight: 1.7, itemGap: 4,
      padding: [3.5, 6, 3.5, 5],
      backgroundColor: "rgba(255,255,255,0.8)",
      borderColor: "#d0d0d0", borderWidth: 1, borderRadius: 3,
      selectedMode: false,
      textStyle: { fontFamily: FONT, fontSize: 13.6, color: "#000", lineHeight: 15.5, padding: [0, 0, 0, 5] }
    });
    if (c === 0) {
      series.push({
        name: NAME_GRID, type: "line", xAxisIndex: i, yAxisIndex: i,
        data: dayPoints(leftPanels[r][0]), showSymbol: false, color: BLUE,
        lineStyle: { width: 1.6, color: BLUE }
      });
      series.push({
        name: NAME_UNUSED, type: "line", xAxisIndex: i, yAxisIndex: i,
        data: dayPoints(leftPanels[r][1]), showSymbol: false, color: ORANGE,
        lineStyle: { width: 1.6, color: ORANGE }
      });
    } else {
      series.push({
        name: NAME_ELY, type: "line", xAxisIndex: i, yAxisIndex: i,
        data: rightPanels[r], showSymbol: false, color: BLUE,
        lineStyle: { width: 1.7, color: BLUE }
      });
    }
  }
});

var chart = echarts.init(document.getElementById("chart"), null, { renderer: "canvas" });
chart.setOption({
  backgroundColor: "#fff",
  animation: false,
  title: titles,
  legend: legends,
  grid: grids,
  xAxis: xAxes,
  yAxis: yAxes,
  series: series
});
</script>
</body>
</html>
